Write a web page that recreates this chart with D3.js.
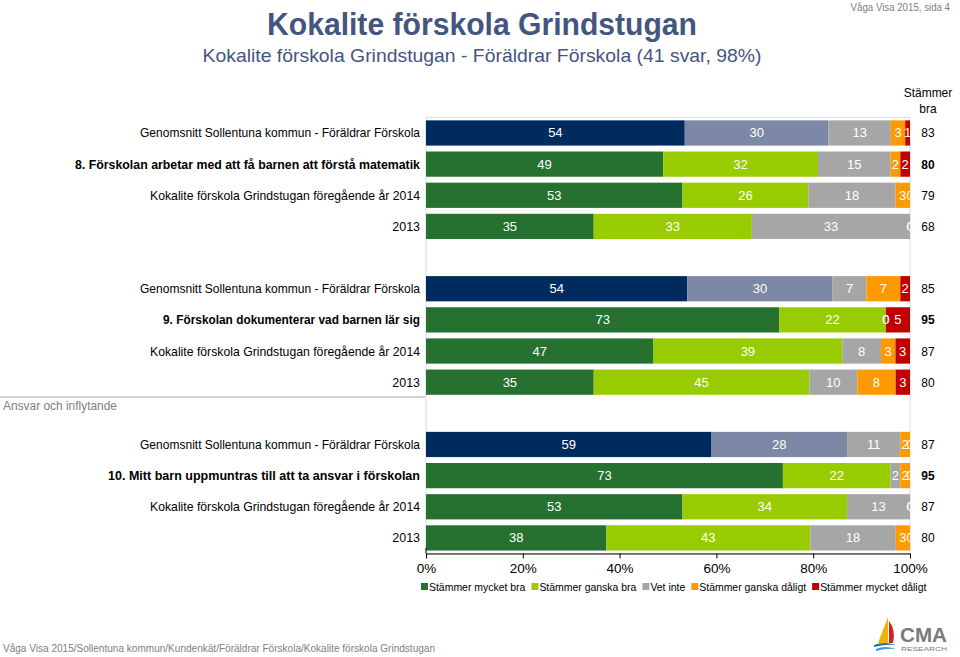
<!DOCTYPE html>
<html><head><meta charset="utf-8">
<script src="https://cdn.jsdelivr.net/npm/d3@7"></script>
<style>
body{margin:0;background:#fff;}
svg{display:block;font-family:"Liberation Sans",Arial,sans-serif;}
</style></head>
<body><svg id="c" width="960" height="657"></svg>
<script>
// ---------- data ----------
const title = "Kokalite förskola Grindstugan";
const subtitle = "Kokalite förskola Grindstugan - Föräldrar Förskola (41 svar, 98%)";
const pageNote = "Våga Visa 2015, sida 4";
const footer = "Våga Visa 2015/Sollentuna kommun/Kundenkät/Föräldrar Förskola/Kokalite förskola Grindstugan";
const sectionLabel = "Ansvar och inflytande";
const segmentNames = ["Stämmer mycket bra","Stämmer ganska bra","Vet inte","Stämmer ganska dåligt","Stämmer mycket dåligt"];
const questions = ["8. Förskolan arbetar med att få barnen att förstå matematik",
                   "9. Förskolan dokumenterar vad barnen lär sig",
                   "10. Mitt barn uppmuntras till att ta ansvar i förskolan"];
const avgLabel = "Genomsnitt Sollentuna kommun - Föräldrar Förskola";
const prevLabel = "Kokalite förskola Grindstugan föregående år 2014";
const oldLabel = "2013";
// rows per question: [average, current, 2014, 2013]
const q8Values  = [[54,30,13,3,1],[49,32,15,2,2],[53,26,18,3,0],[35,33,33,0,0]];
const q9Values  = [[54,30,7,7,2],[73,22,0,0,5],[47,39,8,3,3],[35,45,10,8,3]];
const q10Values = [[59,28,11,2,0],[73,22,2,2,0],[53,34,13,0,0],[38,43,18,3,0]];
const q8Bra  = [83,80,79,68];
const q9Bra  = [85,95,87,80];
const q10Bra = [87,95,87,80];
const xTicks = [0,20,40,60,80,100];
const braHeader = ["Stämmer","bra"];

// ---------- styles ----------
const avgColors = ["#002b5f","#7d88a7","#a6a6a6","#ff9900","#c00000"];
const mainColors = ["#267030","#99cc00","#a6a6a6","#ff9900","#c00000"];
const legendColors = mainColors;
const titleColor = "#44557f";
const K = 0.92;

const svg = d3.select("#c");
const groups = [q8Values,q9Values,q10Values];
const bras = [q8Bra,q9Bra,q10Bra];
const rows = [];
groups.forEach((g,gi)=>{
  const labels=[avgLabel,questions[gi],prevLabel,oldLabel];
  g.forEach((vals,ri)=>{
    rows.push({idx: gi*5+ri, label: labels[ri], bold: ri===1, avg: ri===0, vals, bra: bras[gi][ri]});
  });
});

const x = d3.scaleLinear().domain([0,100]).range([426,910]);
const y = d3.scaleBand().domain(d3.range(14)).range([117.4,553.5]).paddingInner(0.19).paddingOuter(0.095);

// header
svg.append("text").attr("class","cond").attr("data-w",430).attr("x",482).attr("y",35).attr("text-anchor","middle")
  .attr("font-size",31).attr("font-weight","bold").attr("fill",titleColor).text(title);
svg.append("text").attr("class","cond").attr("data-w",559).attr("x",482).attr("y",62).attr("text-anchor","middle")
  .attr("font-size",19).attr("fill",titleColor).text(subtitle);
svg.append("text").attr("class","cond").attr("data-k",0.88).attr("x",950).attr("y",11).attr("text-anchor","end")
  .attr("font-size",11).attr("fill","#808080").text(pageNote);
braHeader.forEach((t,i)=>svg.append("text").attr("class","cond").attr("x",928).attr("y",97+i*16)
  .attr("text-anchor","middle").attr("font-size",13).attr("fill","#000").text(t));

// plot frame
svg.append("rect").attr("x",x(0)).attr("y",117.4).attr("width",x(100)-x(0)).attr("height",553.5-117.4)
  .attr("fill","none").attr("stroke","#dcdcdc").attr("stroke-width",1);

// clip
svg.append("clipPath").attr("id","plotclip").append("rect")
  .attr("x",x(0)).attr("y",110).attr("width",x(100)-x(0)).attr("height",450);

const plot = svg.append("g").attr("clip-path","url(#plotclip)");
rows.forEach(r=>{
  const total = d3.sum(r.vals);
  let cum = 0;
  const segs = r.vals.map((v,i)=>{const s={v,i,x0:cum/total*100,x1:(cum+v)/total*100}; cum+=v; return s;});
  const cols = r.avg?avgColors:mainColors;
  const g = plot.append("g");
  g.selectAll("rect").data(segs).join("rect")
    .attr("x",d=>x(d.x0)).attr("y",y(r.idx)).attr("width",d=>x(d.x1)-x(d.x0)).attr("height",y.bandwidth())
    .attr("fill",d=>cols[d.i]);
  g.selectAll("text").data(segs).join("text")
    .attr("x",d=>x((d.x0+d.x1)/2)).attr("y",y(r.idx)+y.bandwidth()/2+4.5)
    .attr("text-anchor","middle").attr("font-size",13).attr("fill","#fff").text(d=>d.v);
});

// row labels & stammer bra
const labelWidths = {};
labelWidths[avgLabel]=280; labelWidths[prevLabel]=270;
labelWidths[questions[0]]=345; labelWidths[questions[1]]=257; labelWidths[questions[2]]=312;
rows.forEach(r=>{
  const t = svg.append("text").attr("class","cond").attr("x",420).attr("y",y(r.idx)+y.bandwidth()/2+4.5)
    .attr("text-anchor","end").attr("font-size",13.5).attr("font-weight",r.bold?"bold":"normal").attr("fill","#000").text(r.label);
  if(labelWidths[r.label]) t.attr("data-w",labelWidths[r.label]);
  svg.append("text").attr("class","cond").attr("x",928).attr("y",y(r.idx)+y.bandwidth()/2+4.5)
    .attr("text-anchor","middle").attr("font-size",13).attr("font-weight",r.bold?"bold":"normal").attr("fill","#000").text(r.bra);
});

// section
svg.append("line").attr("x1",0).attr("x2",425).attr("y1",397).attr("y2",397).attr("stroke","#a0a0a0");
svg.append("text").attr("class","cond").attr("data-w",114).attr("x",3).attr("y",410).attr("font-size",13).attr("fill","#808080").text(sectionLabel);

// axis
const axis = d3.axisBottom(x).tickValues(xTicks)
  .tickFormat(d=>d+"%").tickSize(5).tickSizeOuter(0);
const ag = svg.append("g").attr("transform","translate(0,553.5)").call(axis);
ag.select(".domain").attr("stroke","#000");
ag.selectAll(".tick line").attr("stroke","#000");
ag.selectAll(".tick text").attr("font-size",13.5).attr("font-family","Liberation Sans, Arial, sans-serif").attr("fill","#000").attr("dy","0.85em");
svg.append("line").attr("x1",426).attr("x2",426).attr("y1",548).attr("y2",553.5).attr("stroke","#000");

// legend
let lx = 421;
const leg = svg.append("g");
segmentNames.forEach((n,i)=>{
  leg.append("rect").attr("x",lx).attr("y",583).attr("width",7).attr("height",7).attr("fill",legendColors[i]);
  const t = leg.append("text").attr("x",lx+8).attr("y",590.5).attr("font-size",11).attr("fill","#000").text(n);
  const w = t.node().getComputedTextLength()*0.95;
  t.attr("textLength",w).attr("lengthAdjust","spacingAndGlyphs");
  lx += 8 + w + 6;
});

// footer
svg.append("text").attr("class","cond").attr("data-w",432).attr("x",3).attr("y",652).attr("font-size",11).attr("fill","#808080").text(footer);

// logo
const logo = svg.append("g").attr("transform","translate(872,616)");
logo.append("path").attr("d","M16,1 L6,27 L16,27 Z").attr("fill","#f0b400");
logo.append("path").attr("d","M17,5 Q24,14 21,27 L17,27 Z").attr("fill","#d0202a");
logo.append("path").attr("d","M2,29 Q12,25 24,29 Q14,28 2,31 Z").attr("fill","#1f6fb5");
logo.append("path").attr("d","M4,33 Q13,29 24,33 Q14,32 4,35 Z").attr("fill","#3a9ad9");
logo.append("text").attr("x",28).attr("y",26).attr("font-size",21).attr("font-weight","bold").attr("fill","#7a7a7a")
  .attr("textLength",47).attr("lengthAdjust","spacingAndGlyphs").text("CMA");
logo.append("text").attr("x",29).attr("y",35).attr("font-size",5.5).attr("fill","#7a7a7a")
  .attr("textLength",46).attr("lengthAdjust","spacingAndGlyphs").text("RESEARCH");

// condense text to match narrow rendering
svg.selectAll("text.cond").each(function(){
  const el = d3.select(this);
  const k = +el.attr("data-k") || K;
  const w = +el.attr("data-w") || this.getComputedTextLength()*k;
  el.attr("textLength",w).attr("lengthAdjust","spacingAndGlyphs");
});
</script></body></html>
